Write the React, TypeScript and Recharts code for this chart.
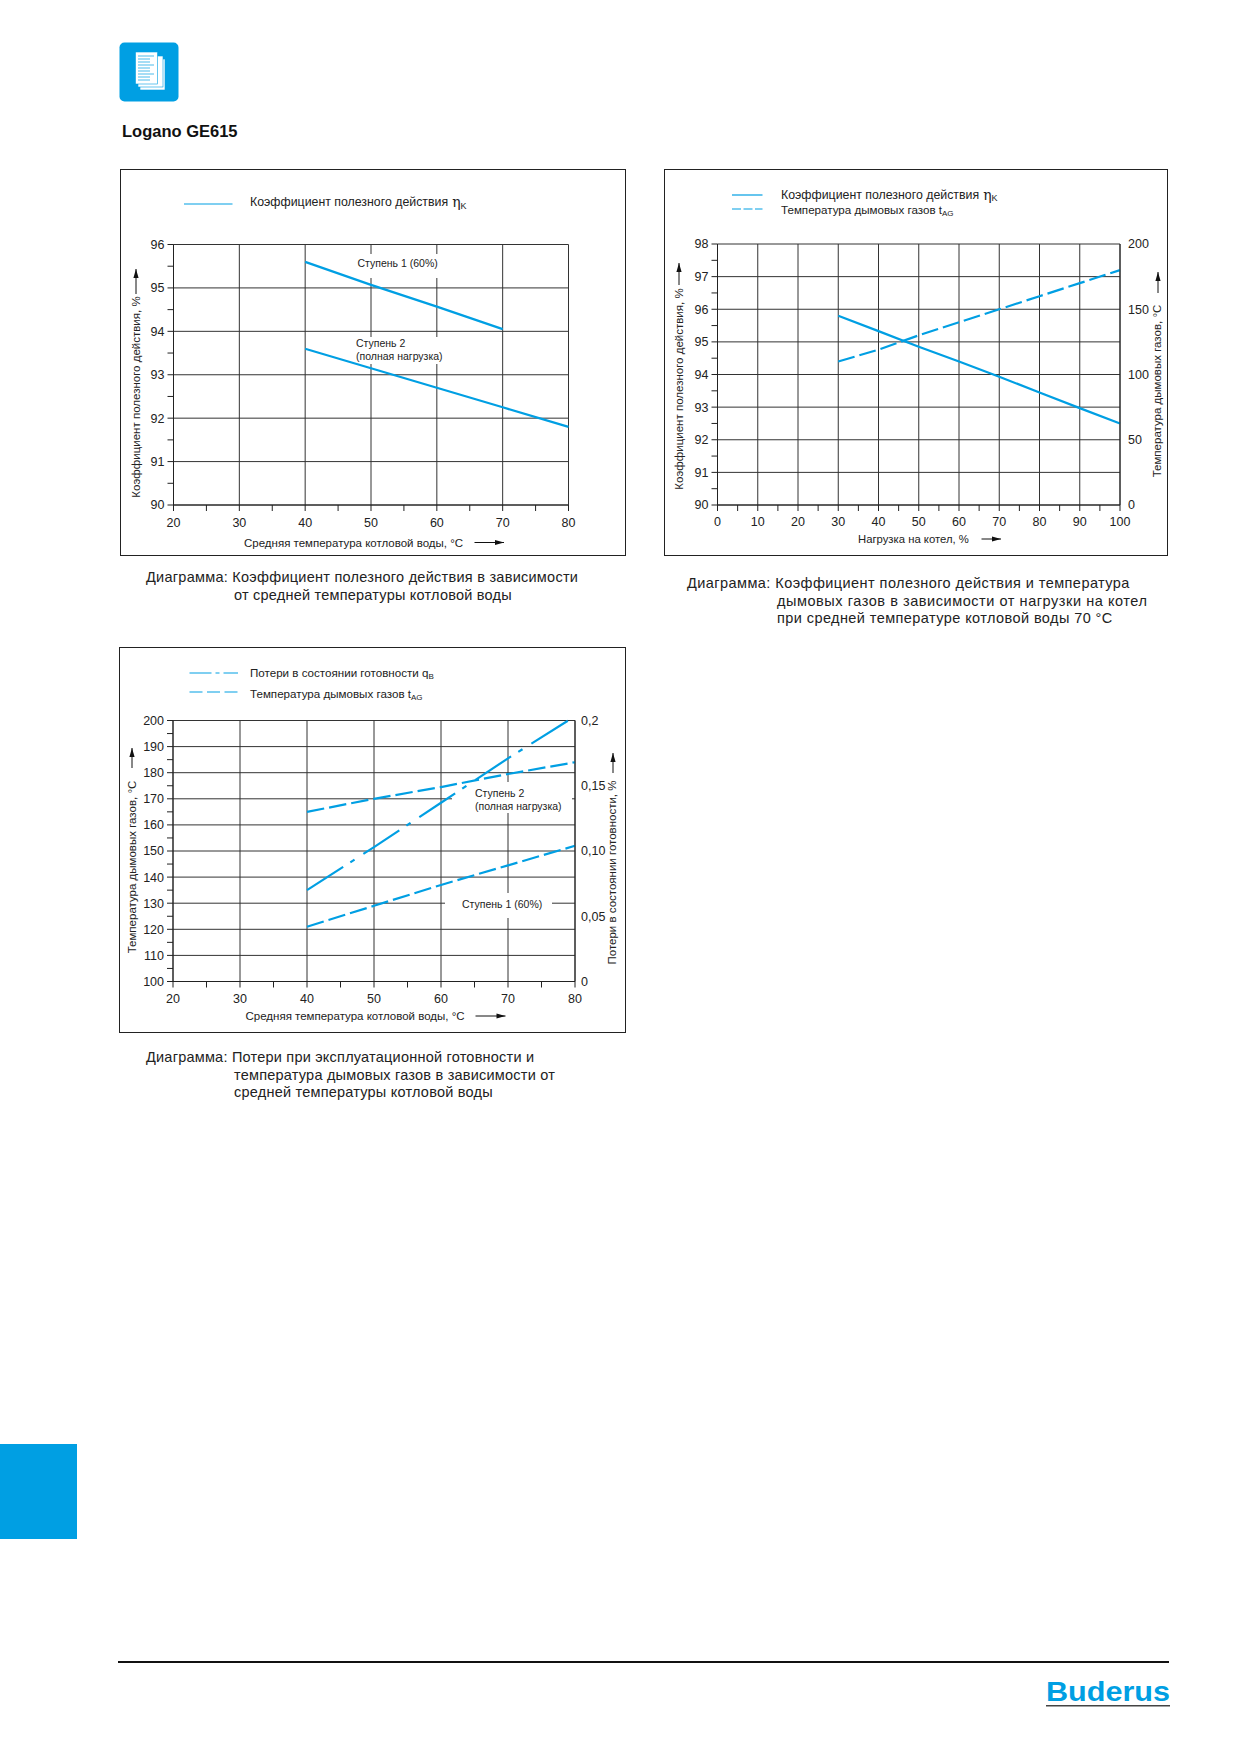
import React from 'react';
import { LineChart, Line, XAxis, YAxis, CartesianGrid } from 'recharts';

const BLUE = '#009fe3';
const INK = '#222222';
const GRID = '#333333';
const FONT = '"Liberation Sans", Arial, sans-serif';

// chart 1: efficiency vs. mean boiler water temperature
const c1X = [40, 50, 60, 70, 80];
const c1Stage1 = [95.6, 95.07, 94.57, 94.05, null];
const c1Stage2 = [93.6, 93.15, 92.7, 92.25, 91.8];
const c1XTicks = [20, 25, 30, 35, 40, 45, 50, 55, 60, 65, 70, 75, 80];
const c1XGrid = [20, 30, 40, 50, 60, 70, 80];
const c1YTicks = [90, 90.5, 91, 91.5, 92, 92.5, 93, 93.5, 94, 94.5, 95, 95.5, 96];
const c1YGrid = [90, 91, 92, 93, 94, 95, 96];

// chart 2: efficiency and flue gas temperature vs. boiler load
const c2X = [30, 40, 50, 60, 70, 80, 90, 100];
const c2Efficiency = [95.8, 95.33, 94.85, 94.4, 93.93, 93.45, 92.97, 92.5];
const c2FlueGas = [110, 119, 130, 140, 150, 160, 170, 180];
const c2XTicks = [0, 5, 10, 15, 20, 25, 30, 35, 40, 45, 50, 55, 60, 65, 70, 75, 80, 85, 90, 95, 100];
const c2XGrid = [0, 10, 20, 30, 40, 50, 60, 70, 80, 90, 100];
const c2YTicks = [90, 90.5, 91, 91.5, 92, 92.5, 93, 93.5, 94, 94.5, 95, 95.5, 96, 96.5, 97, 97.5, 98];
const c2YGrid = [90, 91, 92, 93, 94, 95, 96, 97, 98];
const c2RightTicks = [0, 50, 100, 150, 200];

// chart 3: standby losses and flue gas temperature vs. mean boiler water temperature
const c3X = [40, 50, 60, 70, 79, 80];
const c3Losses = [0.07, 0.103, 0.137, 0.171, 0.2, null];
const c3FlueStage2 = [165, 170, 174.5, 179.5, null, 184];
const c3FlueStage1 = [121, 129, 137, 144.5, null, 152];
const c3XTicks = c1XTicks;
const c3XGrid = c1XGrid;
const c3YTicks = [100, 105, 110, 115, 120, 125, 130, 135, 140, 145, 150, 155, 160, 165, 170, 175, 180, 185, 190, 195, 200];
const c3YGrid = [100, 110, 120, 130, 140, 150, 160, 170, 180, 190, 200];
const c3RightTicks = [0, 0.05, 0.1, 0.15, 0.2];
const c3RightLabels = ['0', '0,05', '0,10', '0,15', '0,2'];

const tickStyle = { fontSize: 12.5, fill: INK, fontFamily: FONT };
const axisLine = { stroke: INK, strokeWidth: 1 };
const everyTen = (v: number) => (v % 10 === 0 ? String(v) : '');
const wholeOnly = (v: number) => (Number.isInteger(v) ? String(v) : '');

const Arrow = ({ x1, y1, x2, y2 }: { x1: number; y1: number; x2: number; y2: number }) => {
  const a = Math.atan2(y2 - y1, x2 - x1);
  const back = (d: number, side: number) =>
    `${x2 - d * Math.cos(a) - side * Math.sin(a)},${y2 - d * Math.sin(a) + side * Math.cos(a)}`;
  return (
    <g>
      <line x1={x1} y1={y1} x2={x2} y2={y2} stroke="#111" strokeWidth={1} />
      <polygon points={`${x2},${y2} ${back(9, 2.6)} ${back(9, -2.6)}`} fill="#111" />
    </g>
  );
};

const Txt = ({ x, y, size = 11.5, anchor = 'start', rotate, children }: any) => (
  <text
    x={x}
    y={y}
    fontSize={size}
    fill={INK}
    fontFamily={FONT}
    textAnchor={anchor}
    dominantBaseline="central"
    transform={rotate ? `rotate(${rotate} ${x} ${y})` : undefined}
  >
    {children}
  </text>
);

const Sub = ({ size = 9, children }: any) => (
  <tspan fontSize={size} dy={3.5}>
    {children}
  </tspan>
);

const Eta = () => <tspan fontFamily='"DejaVu Serif", serif' fontSize={14} dx={4}>η</tspan>;

const Frame = ({ x, y, w, h, children }: any) => (
  <div
    style={{
      position: 'absolute',
      left: x,
      top: y,
      width: w,
      height: h,
      outline: `1.3px solid ${INK}`,
    }}
  >
    {children}
  </div>
);

const Caption = ({ x, y, spacing = 0.22, children }: any) => (
  <div
    style={{
      position: 'absolute',
      left: x,
      top: y - 9,
      height: 18,
      lineHeight: '18px',
      whiteSpace: 'nowrap',
      fontFamily: FONT,
      fontSize: 14.5,
      letterSpacing: spacing,
      color: INK,
    }}
  >
    {children}
  </div>
);

// frame positions on the page, annotations below are written in page coordinates
const f1 = { x: 121, y: 170, w: 504, h: 385 };
const f2 = { x: 665, y: 170, w: 502, h: 385 };
const f3 = { x: 120, y: 648, w: 505, h: 383.5 };

const Chart1 = () => {
  const data = c1X.map((x, i) => ({ x, stage1: c1Stage1[i], stage2: c1Stage2[i] }));
  return (
    <Frame {...f1}>
      <LineChart width={f1.w} height={f1.h} data={data} margin={{ top: 74.5, right: 56.5, left: 0, bottom: 0 }}>
        <CartesianGrid stroke={GRID} verticalValues={c1XGrid} horizontalValues={c1YGrid} />
        <XAxis
          type="number"
          dataKey="x"
          domain={[20, 80]}
          ticks={c1XTicks}
          interval={0}
          height={50}
          tick={tickStyle}
          tickLine={axisLine}
          axisLine={axisLine}
          tickSize={6}
          tickMargin={7}
          tickFormatter={everyTen}
        />
        <YAxis
          type="number"
          domain={[90, 96]}
          ticks={c1YTicks}
          interval={0}
          width={52.5}
          tick={tickStyle}
          tickLine={axisLine}
          axisLine={axisLine}
          tickSize={6}
          tickMargin={3}
          tickFormatter={wholeOnly}
        />
        <g transform={`translate(${-f1.x} ${-f1.y})`}>
          <rect x={352} y={254} width={93} height={24} fill="#fff" />
          <rect x={352} y={337} width={93} height={27} fill="#fff" />
          <Txt x={357.5} y={263} size={10.5}>Ступень 1 (60%)</Txt>
          <Txt x={356} y={342.5} size={10.5}>Ступень 2</Txt>
          <Txt x={356} y={355.5} size={10.5}>(полная нагрузка)</Txt>
          <line x1={184} y1={204} x2={232.5} y2={204} stroke={BLUE} strokeWidth={1.2} />
          <Txt x={250} y={202} size={12.35}>
            Коэффициент полезного действия
            <Eta />
            <Sub>K</Sub>
          </Txt>
          <Txt x={136} y={397} rotate={-90} anchor="middle">Коэффициент полезного действия, %</Txt>
          <Arrow x1={136} y1={294} x2={136} y2={269} />
          <Txt x={244} y={542.5}>Средняя температура котловой воды, °C</Txt>
          <Arrow x1={474.5} y1={542.5} x2={504} y2={542.5} />
        </g>
        <Line dataKey="stage1" stroke={BLUE} strokeWidth={2.2} dot={false} isAnimationActive={false} />
        <Line dataKey="stage2" stroke={BLUE} strokeWidth={2.2} dot={false} isAnimationActive={false} />
      </LineChart>
    </Frame>
  );
};

const Chart2 = () => {
  const data = c2X.map((x, i) => ({ x, efficiency: c2Efficiency[i], flue: c2FlueGas[i] }));
  return (
    <Frame {...f2}>
      <LineChart width={f2.w} height={f2.h} data={data} margin={{ top: 74, right: 0, left: 0, bottom: 0 }}>
        <CartesianGrid stroke={GRID} yAxisId="left" verticalValues={c2XGrid} horizontalValues={c2YGrid} />
        <XAxis
          type="number"
          dataKey="x"
          domain={[0, 100]}
          ticks={c2XTicks}
          interval={0}
          height={50}
          tick={tickStyle}
          tickLine={axisLine}
          axisLine={axisLine}
          tickSize={6}
          tickMargin={6}
          tickFormatter={everyTen}
        />
        <YAxis
          yAxisId="left"
          type="number"
          domain={[90, 98]}
          ticks={c2YTicks}
          interval={0}
          width={52.5}
          tick={tickStyle}
          tickLine={axisLine}
          axisLine={axisLine}
          tickSize={6}
          tickMargin={3}
          tickFormatter={wholeOnly}
        />
        <YAxis
          yAxisId="right"
          orientation="right"
          type="number"
          domain={[0, 200]}
          ticks={c2RightTicks}
          interval={0}
          width={47}
          tick={tickStyle}
          tickLine={false}
          axisLine={axisLine}
          tickSize={6}
          tickMargin={2}
        />
        <g transform={`translate(${-f2.x} ${-f2.y})`}>
          <line x1={732} y1={195} x2={762.5} y2={195} stroke={BLUE} strokeWidth={1.2} />
          <line x1={732} y1={209} x2={762.5} y2={209} stroke={BLUE} strokeWidth={1.2} strokeDasharray="9 2.5" />
          <Txt x={781} y={194.5} size={12.35}>
            Коэффициент полезного действия
            <Eta />
            <Sub>K</Sub>
          </Txt>
          <Txt x={781} y={209.5} size={11.6}>
            Температура дымовых газов t<Sub size={8}>AG</Sub>
          </Txt>
          <Txt x={678.5} y={389} rotate={-90} anchor="middle">Коэффициент полезного действия, %</Txt>
          <Arrow x1={679} y1={285} x2={679} y2={263} />
          <Txt x={1156.5} y={391} rotate={-90} anchor="middle">Температура дымовых газов, °C</Txt>
          <Arrow x1={1158} y1={293} x2={1158} y2={272} />
          <Txt x={858} y={539} size={11.3}>Нагрузка на котел, %</Txt>
          <Arrow x1={981.5} y1={539} x2={1001} y2={539} />
        </g>
        <Line yAxisId="left" dataKey="efficiency" stroke={BLUE} strokeWidth={2.2} dot={false} isAnimationActive={false} />
        <Line yAxisId="right" dataKey="flue" stroke={BLUE} strokeWidth={2.2} strokeDasharray="17 5" dot={false} isAnimationActive={false} />
      </LineChart>
    </Frame>
  );
};

const Chart3 = () => {
  const data = c3X.map((x, i) => ({ x, losses: c3Losses[i], flue2: c3FlueStage2[i], flue1: c3FlueStage1[i] }));
  return (
    <Frame {...f3}>
      <LineChart width={f3.w} height={f3.h} data={data} margin={{ top: 72.5, right: 0, left: 0, bottom: 0 }}>
        <CartesianGrid stroke={GRID} yAxisId="left" verticalValues={c3XGrid} horizontalValues={c3YGrid} />
        <XAxis
          type="number"
          dataKey="x"
          domain={[20, 80]}
          ticks={c3XTicks}
          interval={0}
          height={50}
          tick={tickStyle}
          tickLine={axisLine}
          axisLine={axisLine}
          tickSize={6}
          tickMargin={7}
          tickFormatter={everyTen}
        />
        <YAxis
          yAxisId="left"
          type="number"
          domain={[100, 200]}
          ticks={c3YTicks}
          interval={0}
          width={53}
          tick={tickStyle}
          tickLine={axisLine}
          axisLine={axisLine}
          tickSize={6}
          tickMargin={3}
          tickFormatter={everyTen}
        />
        <YAxis
          yAxisId="right"
          orientation="right"
          type="number"
          domain={[0, 0.2]}
          ticks={c3RightTicks}
          interval={0}
          width={50}
          tick={tickStyle}
          tickLine={false}
          axisLine={axisLine}
          tickSize={6}
          tickMargin={0}
          tickFormatter={(v: number) => c3RightLabels[c3RightTicks.indexOf(v)]}
        />
        <g transform={`translate(${-f3.x} ${-f3.y})`}>
          <rect x={452} y={782} width={120} height={31} fill="#fff" />
          <rect x={445} y={893} width={107} height={25} fill="#fff" />
          <Txt x={475} y={793} size={10.5}>Ступень 2</Txt>
          <Txt x={475} y={806} size={10.5}>(полная нагрузка)</Txt>
          <Txt x={462} y={904} size={10.5}>Ступень 1 (60%)</Txt>
          <line x1={189.5} y1={673} x2={238} y2={673} stroke={BLUE} strokeWidth={1.2} strokeDasharray="22 4 4 4 16" />
          <line x1={189.5} y1={692} x2={238} y2={692} stroke={BLUE} strokeWidth={1.2} strokeDasharray="13 4.5" />
          <Txt x={250} y={672} size={11.6}>
            Потери в состоянии готовности q<Sub size={8}>B</Sub>
          </Txt>
          <Txt x={250} y={693} size={11.6}>
            Температура дымовых газов t<Sub size={8}>AG</Sub>
          </Txt>
          <Txt x={132} y={867} rotate={-90} anchor="middle">Температура дымовых газов, °C</Txt>
          <Arrow x1={132} y1={768} x2={132} y2={748} />
          <Txt x={612} y={872.5} rotate={-90} anchor="middle">Потери в состоянии готовности, %</Txt>
          <Arrow x1={613} y1={773} x2={613} y2={753} />
          <Txt x={245.5} y={1016}>Средняя температура котловой воды, °C</Txt>
          <Arrow x1={475.5} y1={1016} x2={505.5} y2={1016} />
        </g>
        <Line yAxisId="right" dataKey="losses" stroke={BLUE} strokeWidth={2.2} strokeDasharray="43 8.5 5 10.5" connectNulls dot={false} isAnimationActive={false} />
        <Line yAxisId="left" dataKey="flue2" stroke={BLUE} strokeWidth={2.2} strokeDasharray="17.5 5" connectNulls dot={false} isAnimationActive={false} />
        <Line yAxisId="left" dataKey="flue1" stroke={BLUE} strokeWidth={2.2} strokeDasharray="17.5 5" connectNulls dot={false} isAnimationActive={false} />
      </LineChart>
    </Frame>
  );
};

const DocIcon = () => (
  <svg style={{ position: 'absolute', left: 119, top: 42 }} width={60} height={60} viewBox="0 0 60 60">
    <rect x={0.5} y={0.5} width={59} height={59} rx={5} fill={BLUE} />
    <rect x={21} y={17} width={25} height={31} fill="#fff" stroke={BLUE} strokeWidth={0.6} />
    <rect x={19} y={14} width={25} height={31} fill="#fff" stroke={BLUE} strokeWidth={0.6} />
    <rect x={16.5} y={10} width={22} height={32} fill="#fff" stroke={BLUE} strokeWidth={0.6} />
    {[14, 17, 20, 23, 26, 29, 32, 35, 38].map((y, i) => (
      <line key={y} x1={19} y1={y} x2={i % 3 === 0 ? 35 : 31} y2={y} stroke={BLUE} strokeWidth={1} opacity={0.7} />
    ))}
  </svg>
);

export default function App() {
  return (
    <div style={{ position: 'absolute', left: 0, top: 0, width: 1239, height: 1752, background: '#fff', overflow: 'hidden' }}>
      <DocIcon />
      <div style={{ position: 'absolute', left: 122, top: 121, lineHeight: '20px', fontFamily: FONT, fontWeight: 'bold', fontSize: 16.5, color: '#111' }}>
        Logano GE615
      </div>

      <Chart1 />
      <Caption x={146} y={577} spacing={0.26}>Диаграмма: Коэффициент полезного действия в зависимости</Caption>
      <Caption x={234} y={595}>от средней температуры котловой воды</Caption>

      <Chart2 />
      <Caption x={687} y={583} spacing={0.44}>Диаграмма: Коэффициент полезного действия и температура</Caption>
      <Caption x={777} y={601} spacing={0.55}>дымовых газов в зависимости от нагрузки на котел</Caption>
      <Caption x={777} y={618} spacing={0.42}>при средней температуре котловой воды 70 °C</Caption>

      <Chart3 />
      <Caption x={146} y={1056.5}>Диаграмма: Потери при эксплуатационной готовности и</Caption>
      <Caption x={234} y={1074.5}>температура дымовых газов в зависимости от</Caption>
      <Caption x={234} y={1092}>средней температуры котловой воды</Caption>

      <div style={{ position: 'absolute', left: 0, top: 1444, width: 77, height: 95, background: BLUE }} />
      <div style={{ position: 'absolute', left: 118, top: 1661, width: 1051, height: 1.5, background: '#111' }} />
      <svg style={{ position: 'absolute', left: 1036, top: 1673 }} width={140} height={44}>
        <text x={10} y={28} fontSize={28} fontWeight="bold" fontFamily={FONT} fill={BLUE} textLength={124} lengthAdjust="spacingAndGlyphs">
          Buderus
        </text>
        <rect x={10} y={32} width={124} height={1.5} fill="#444" />
      </svg>
    </div>
  );
}
